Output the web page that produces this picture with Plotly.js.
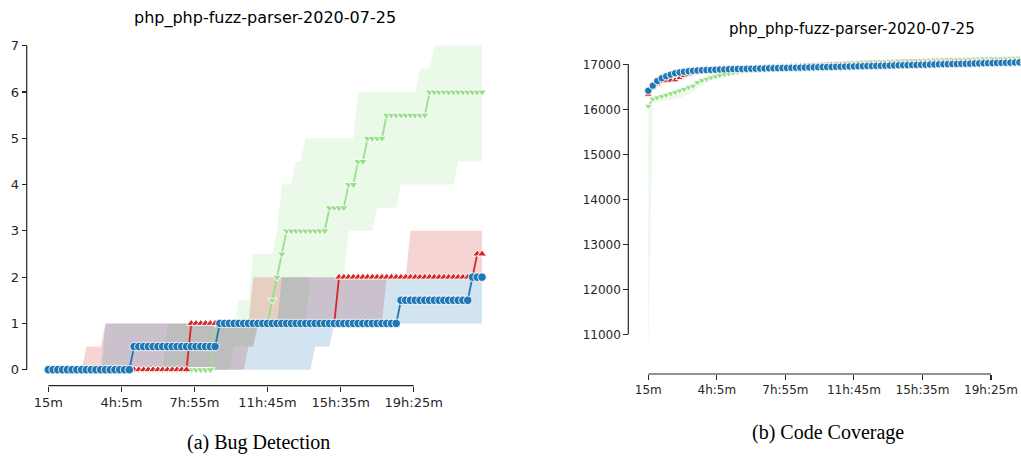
<!DOCTYPE html>
<html><head><meta charset="utf-8">
<script src="https://cdn.plot.ly/plotly-3.0.1.min.js"></script>
<style>html,body{margin:0;padding:0;background:#fff}#chart{width:1021px;height:457px}</style>
</head><body><div id="chart"></div>
<script>
// ---------------- data ----------------
const minutes = [15,30,45,60,75,90,105,120,135,150,165,180,195,210,225,240,255,270,285,300,315,330,345,360,375,390,405,420,435,450,465,480,495,510,525,540,555,570,585,600,615,630,645,660,675,690,705,720,735,750,765,780,795,810,825,840,855,870,885,900,915,930,945,960,975,990,1005,1020,1035,1050,1065,1080,1095,1110,1125,1140,1155,1170,1185,1200,1215,1230,1245,1260,1275,1290,1305,1320,1335,1350,1365,1380];
const tickMinutes = [15,245,475,705,935,1165];
const tickLabels = ['15m','4h:5m','7h:55m','11h:45m','15h:35m','19h:25m'];
const bugTicks = [0,1,2,3,4,5,6,7];
const covTicks = [11000,12000,13000,14000,15000,16000,17000];
const chartTitle = 'php_php-fuzz-parser-2020-07-25';
const captionA = '(a) Bug Detection';
const captionB = '(b) Code Coverage';

// (a) bugs found: mean and band per fuzzer
const bugBlue = [0,0,0,0,0,0,0,0,0,0, 0,0,0,0,0,0,0,0,0.5,0.5, 0.5,0.5,0.5,0.5,0.5,0.5,0.5,0.5,0.5,0.5, 0.5,0.5,0.5,0.5,0.5,0.5,1,1,1,1, 1,1,1,1,1,1,1,1,1,1, 1,1,1,1,1,1,1,1,1,1, 1,1,1,1,1,1,1,1,1,1, 1,1,1,1,1.5,1.5,1.5,1.5,1.5,1.5, 1.5,1.5,1.5,1.5,1.5,1.5,1.5,1.5,1.5,2, 2,2];
const bugBlueLo = [0,0,0,0,0,0,0,0,0,0, 0,0,0,0,0,0,0,0,0,0, 0,0,0,0,0,0,0,0,0,0, 0,0,0,0,0,0,0,0,0,0, 0,0,0,0,0,0,0,0,0,0, 0,0,0,0,0,0,0.5,0.5,0.5,0.5, 1,1,1,1,1,1,1,1,1,1, 1,1,1,1,1,1,1,1,1,1, 1,1,1,1,1,1,1,1,1,1, 1,1];
const bugBlueHi = [0,0,0,0,0,0,0,0,0,0, 0,0,1,1,1,1,1,1,1,1, 1,1,1,1,1,1,1,1,1,1, 1,1,1,1,1,1,1,1,1,1, 1,1,1,1,1,1,1,1,1,2, 2,2,2,2,2,2,2,2,2,2, 2,2,2,2,2,2,2,2,2,2, 2,2,2,2,2,2,2,2,2,2, 2,2,2,2,2,2,2,2,2,2, 2,2];
const bugRed = [0,0,0,0,0,0,0,0,0,0, 0,0,0,0,0,0,0,0,0,0, 0,0,0,0,0,0,0,0,0,0, 1,1,1,1,1,1,1,1,1,1, 1,1,1,1,1,1,1,1,1,1, 1,1,1,1,1,1,1,1,1,1, 1,2,2,2,2,2,2,2,2,2, 2,2,2,2,2,2,2,2,2,2, 2,2,2,2,2,2,2,2,2,2, 2.5,2.5];
const bugRedLo = [0,0,0,0,0,0,0,0,0,0, 0,0,0,0,0,0,0,0,0,0, 0,0,0,0,0,0,0,0,0,0, 0,0,0,0,0,0,0,0,0,0, 0,0,0.5,0.5,1,1,1,1,1,1, 1,1,1,1,1,1,1,1,1,1, 1,1,1,1,1,1,1,1,1,1, 1,2,2,2,2,2,2,2,2,2, 2,2,2,2,2,2,2,2,2,2, 2,2];
const bugRedHi = [0,0,0,0,0,0,0,0,0.5,0.5, 0.5,0.5,1,1,1,1,1,1,1,1, 1,1,1,1,1,1,1,1,1,1, 1,1,1,1,1,1,1,1,1,1, 1,1,1,2,2,2,2,2,2,2, 2,2,2,2,2,2,2,2,2,2, 2,2,2,2,2,2,2,2,2,2, 2,2,2,2,2,2,3,3,3,3, 3,3,3,3,3,3,3,3,3,3, 3,3];
const bugGreen = [0,0,0,0,0,0,0,0,0,0, 0,0,0,0,0,0,0,0,0,0, 0,0,0,0,0,0,0,0,0,0, 0,0,0,0,0,1,1,1,1,1, 1,1,1,1,1,1,1,1.5,2,2.5, 3,3,3,3,3,3,3,3,3,3.5, 3.5,3.5,3.5,4,4,4.5,4.5,5,5,5, 5,5.5,5.5,5.5,5.5,5.5,5.5,5.5,5.5,5.5, 6,6,6,6,6,6,6,6,6,6, 6,6];
const bugGreenLo = [0,0,0,0,0,0,0,0,0,0, 0,0,0,0,0,0,0,0,0,0, 0,0,0,0,0,0,0,0,0,0, 0,0,0,0,0,0,0,0,0,0.5, 0.5,0.5,0.5,0.5,1,1,1,1,1,1, 1,1,1,1,1,2,2,2,2,2, 2,2,2,3,3,3,3,3,3,3.5, 3.5,3.5,3.5,3.5,4,4,4,4,4,4, 4,4,4,4,4,4,4.5,4.5,4.5,4.5, 4.5,4.5];
const bugGreenHi = [0,0,0,0,0,0,0,0,0,0, 0,0,0,0,0,0,0,0,0,0, 0,0,0,0,0,1,1,1,1,1, 1,1,1,1,1,1,1,1,1,1, 1.5,1.5,1.5,2.5,2.5,2.5,2.5,2.5,3,4, 4,4,4.5,4.5,5,5,5,5,5,5, 5,5,5,5,5,6,6,6,6,6, 6,6,6,6,6,6,6,6,6.5,6.5, 6.5,7,7,7,7,7,7,7,7,7, 7,7];

// (b) coverage: mean and band per fuzzer (visible part of the time axis)
const covBlue = [16414,16525,16629,16689,16733,16770,16800,16820,16835,16846, 16855,16862,16867,16872,16876,16880,16884,16887,16890,16893, 16895,16897,16899,16901,16903,16905,16908,16910,16912,16914, 16917,16919,16921,16923,16926,16928,16930,16933,16935,16937, 16940,16942,16944,16946,16949,16951,16953,16955,16958,16960, 16962,16965,16967,16969,16972,16974,16977,16979,16981,16984, 16986,16989,16991,16994,16996,16999,17001,17003,17006,17008, 17011,17013,17015,17018,17020,17023,17025,17027,17030,17032, 17035,17037,17040,17042,17045,17047];
const covBlueLo = [16385,16500,16605,16670,16718,16757,16789,16810,16826,16838, 16847,16854,16859,16864,16868,16872,16876,16879,16882,16885, 16887,16889,16891,16893,16895,16897,16900,16902,16904,16906, 16909,16911,16913,16915,16918,16920,16922,16925,16927,16929, 16932,16934,16936,16938,16941,16943,16945,16947,16950,16952, 16954,16957,16959,16961,16964,16966,16969,16971,16973,16976, 16978,16981,16983,16986,16988,16991,16993,16995,16998,17000, 17003,17005,17007,17010,17012,17015,17017,17019,17022,17024, 17027,17029,17032,17034,17037,17039];
const covBlueHi = [16445,16550,16652,16708,16748,16783,16811,16830,16844,16854, 16863,16870,16875,16880,16884,16888,16892,16895,16898,16901, 16903,16905,16907,16909,16911,16913,16916,16918,16920,16922, 16925,16927,16929,16931,16934,16936,16938,16941,16943,16945, 16948,16950,16952,16954,16957,16959,16961,16963,16966,16968, 16970,16973,16975,16977,16980,16982,16985,16987,16989,16992, 16994,16997,16999,17002,17004,17007,17009,17011,17014,17016, 17019,17021,17023,17026,17028,17031,17033,17035,17038,17040, 17043,17045,17048,17050,17053,17055];
const covRed = [16330,16480,16560,16615,16630,16640,16650,16700,16745,16775, 16795,16812,16826,16838,16850,16860,16869,16877,16885,16892, 16899,16905,16911,16917,16922,16927,16932,16937,16941,16945, 16949,16953,16957,16961,16964,16968,16971,16974,16977,16980, 16983,16986,16989,16992,16995,16998,17000,17003,17005,17008, 17010,17013,17015,17018,17020,17023,17025,17027,17030,17032, 17034,17037,17039,17041,17044,17046,17048,17050,17053,17055, 17057,17059,17062,17064,17066,17068,17070,17073,17075,17077, 17079,17081,17084,17086,17088,17090];
const covRedLo = [16300,16440,16520,16580,16600,16615,16625,16670,16720,16755, 16778,16796,16810,16823,16835,16845,16854,16862,16870,16877, 16884,16890,16896,16902,16907,16912,16917,16922,16926,16930, 16934,16938,16942,16946,16949,16953,16956,16959,16962,16965, 16968,16971,16974,16977,16980,16983,16985,16988,16990,16993, 16995,16998,17000,17003,17005,17008,17010,17012,17015,17017, 17019,17022,17024,17026,17029,17031,17033,17035,17038,17040, 17042,17044,17047,17049,17051,17053,17055,17058,17060,17062, 17064,17066,17069,17071,17073,17075];
const covRedHi = [16370,16520,16600,16650,16660,16670,16680,16730,16770,16795, 16812,16828,16842,16853,16865,16875,16884,16892,16900,16907, 16914,16920,16926,16932,16937,16942,16947,16952,16956,16960, 16964,16968,16972,16976,16979,16983,16986,16989,16992,16995, 16998,17001,17004,17007,17010,17013,17015,17018,17020,17023, 17025,17028,17030,17033,17035,17038,17040,17042,17045,17047, 17049,17052,17054,17056,17059,17061,17063,17065,17068,17070, 17072,17074,17077,17079,17081,17083,17085,17088,17090,17092, 17094,17096,17099,17101,17103,17105];
const covGreen = [16073,16229,16259,16289,16318,16348,16378,16415,16444,16489, 16518,16600,16644,16674,16704,16730,16755,16776,16795,16812, 16828,16843,16857,16870,16882,16893,16904,16914,16924,16933, 16942,16950,16958,16966,16974,16981,16988,16995,17001,17007, 17013,17019,17024,17029,17034,17039,17043,17047,17051,17055, 17059,17063,17066,17070,17073,17076,17079,17082,17085,17088, 17091,17094,17097,17099,17102,17104,17107,17109,17112,17114, 17116,17119,17121,17123,17125,17127,17130,17132,17134,17136, 17138,17140,17142,17144,17146,17148];
const covGreenLo = [10450,16150,16165,16180,16195,16210,16230,16255,16290,16330, 16380,16470,16540,16590,16630,16665,16695,16720,16745,16765, 16785,16800,16815,16830,16843,16855,16866,16877,16887,16897, 16906,16915,16924,16932,16940,16948,16955,16962,16969,16975, 16981,16987,16993,16998,17004,17009,17014,17018,17023,17027, 17031,17035,17039,17043,17046,17050,17053,17056,17059,17062, 17065,17068,17071,17074,17077,17079,17082,17084,17087,17089, 17092,17094,17096,17099,17101,17103,17105,17108,17110,17112, 17114,17116,17118,17120,17122,17124];
const covGreenHi = [16110,16300,16320,16345,16370,16400,16430,16465,16500,16545, 16575,16650,16690,16715,16740,16765,16785,16805,16822,16838, 16853,16867,16880,16892,16904,16914,16924,16934,16944,16953, 16962,16970,16978,16986,16994,17001,17008,17015,17021,17027, 17033,17039,17044,17049,17054,17059,17063,17067,17071,17075, 17079,17083,17086,17090,17093,17096,17099,17102,17105,17108, 17111,17114,17117,17119,17122,17124,17127,17129,17132,17134, 17136,17139,17141,17143,17145,17147,17150,17152,17154,17156, 17158,17160,17162,17164,17166,17168];

// ---------------- layout helpers (pixel geometry) ----------------
const W = 1021, H = 457;
function lin(p, pa, va, pb, vb) { return va + (p - pa) * (vb - va) / (pb - pa); }
function xRange(p0, p1, pa, va, pb, vb) { return [lin(p0, pa, va, pb, vb), lin(p1, pa, va, pb, vb)]; }
const px = p => p / W, py = p => (H - p) / H;

const L = {x0: 28, x1: 500, yBot: 395, yTop: 35, xa: [48.3, 15, 413.7, 1165], ya: [369.7, 0, 45.7, 7], spineY: 385.7, spineX: 26.7};
const R = {x0: 629, x1: 1021, yBot: 385, yTop: 40, xa: [648.3, 15, 991, 1165], ya: [334.3, 11000, 64.3, 17000], spineY: 374, spineX: 628.3};

const C = {blue: '#1f77b4', red: '#d62728', green: '#98df8a'};
const F = {blue: 'rgba(31,119,180,0.2)', red: 'rgba(214,39,40,0.2)', green: 'rgba(152,223,138,0.2)'};
const SYM = {blue: 'circle', red: 'triangle-up', green: 'triangle-down'};

function band(x, lo, hi, key, xa, ya) {
  return [
    {x: x, y: lo, xaxis: xa, yaxis: ya, mode: 'lines', line: {width: 0, color: F[key]}, hoverinfo: 'skip', showlegend: false},
    {x: x, y: hi, xaxis: xa, yaxis: ya, mode: 'lines', line: {width: 0, color: F[key]}, fill: 'tonexty', fillcolor: F[key], hoverinfo: 'skip', showlegend: false}
  ];
}
function mean(x, y, key, xa, ya, size) {
  return {x: x, y: y, xaxis: xa, yaxis: ya, mode: 'lines+markers', showlegend: false,
    line: {color: C[key], width: 1.8},
    marker: {symbol: SYM[key], size: size, color: C[key], line: {color: '#ffffff', width: 0.9}}};
}

const xc = minutes.slice(0, covBlue.length);
const traces = [].concat(
  band(minutes, bugGreenLo, bugGreenHi, 'green', 'x', 'y'),
  band(minutes, bugRedLo, bugRedHi, 'red', 'x', 'y'),
  band(minutes, bugBlueLo, bugBlueHi, 'blue', 'x', 'y'),
  [mean(minutes, bugGreen, 'green', 'x', 'y', 8), mean(minutes, bugRed, 'red', 'x', 'y', 8), mean(minutes, bugBlue, 'blue', 'x', 'y', 8.5)],
  band(xc, covGreenLo, covGreenHi, 'green', 'x2', 'y2'),
  band(xc, covRedLo, covRedHi, 'red', 'x2', 'y2'),
  band(xc, covBlueLo, covBlueHi, 'blue', 'x2', 'y2'),
  [mean(xc, covGreen, 'green', 'x2', 'y2', 7), mean(xc, covRed, 'red', 'x2', 'y2', 7), mean(xc, covBlue, 'blue', 'x2', 'y2', 7.5)]
);

const axisCommon = {showgrid: false, zeroline: false, showline: false, ticks: 'outside', ticklen: 5, tickwidth: 1.1, tickcolor: '#262626', anchor: 'free'};
const spine = {color: '#262626', width: 1.2};

const layout = {
  width: W, height: H, margin: {l: 0, r: 0, t: 0, b: 0}, paper_bgcolor: '#ffffff', plot_bgcolor: 'rgba(0,0,0,0)', showlegend: false,
  xaxis: Object.assign({}, axisCommon, {domain: [px(L.x0), px(L.x1)], range: xRange(L.x0, L.x1, ...L.xa), position: py(L.spineY),
    tickvals: tickMinutes, ticktext: tickLabels, tickfont: {family: 'DejaVu Sans', size: 13, color: '#262626'}}),
  yaxis: Object.assign({}, axisCommon, {domain: [py(L.yBot), py(L.yTop)], range: [lin(L.yBot, ...L.ya), lin(L.yTop, ...L.ya)], position: px(L.spineX),
    tickvals: bugTicks, tickformat: 'd', tickfont: {family: 'DejaVu Sans', size: 13, color: '#262626'}}),
  xaxis2: Object.assign({}, axisCommon, {domain: [px(R.x0), px(R.x1)], range: xRange(R.x0, R.x1, ...R.xa), position: py(R.spineY),
    tickvals: tickMinutes, ticktext: tickLabels, tickfont: {family: 'DejaVu Sans', size: 12, color: '#262626'}}),
  yaxis2: Object.assign({}, axisCommon, {domain: [py(R.yBot), py(R.yTop)], range: [lin(R.yBot, ...R.ya), lin(R.yTop, ...R.ya)], position: px(R.spineX),
    tickvals: covTicks, tickformat: 'd', tickfont: {family: 'DejaVu Sans', size: 12, color: '#262626'}}),
  shapes: [
    {type: 'line', xref: 'x', yref: 'paper', x0: tickMinutes[0], x1: tickMinutes[tickMinutes.length - 1], y0: py(L.spineY), y1: py(L.spineY), line: spine},
    {type: 'line', xref: 'paper', yref: 'y', x0: px(L.spineX), x1: px(L.spineX), y0: bugTicks[0], y1: bugTicks[bugTicks.length - 1], line: spine},
    {type: 'line', xref: 'x2', yref: 'paper', x0: tickMinutes[0], x1: tickMinutes[tickMinutes.length - 1], y0: py(R.spineY), y1: py(R.spineY), line: spine},
    {type: 'line', xref: 'paper', yref: 'y2', x0: px(R.spineX), x1: px(R.spineX), y0: covTicks[0], y1: covTicks[covTicks.length - 1], line: spine}
  ],
  annotations: [
    {text: chartTitle, xref: 'paper', yref: 'paper', x: px(265), y: py(18), xanchor: 'center', yanchor: 'middle', showarrow: false, font: {family: 'DejaVu Sans', size: 16, color: '#000'}},
    {text: chartTitle, xref: 'paper', yref: 'paper', x: px(851.5), y: py(29), xanchor: 'center', yanchor: 'middle', showarrow: false, font: {family: 'DejaVu Sans', size: 15, color: '#000'}},
    {text: captionA, xref: 'paper', yref: 'paper', x: px(258), y: py(442), xanchor: 'center', yanchor: 'middle', showarrow: false, font: {family: 'Liberation Serif', size: 20, color: '#000'}},
    {text: captionB, xref: 'paper', yref: 'paper', x: px(828), y: py(432), xanchor: 'center', yanchor: 'middle', showarrow: false, font: {family: 'Liberation Serif', size: 20, color: '#000'}}
  ]
};

Plotly.newPlot('chart', traces, layout, {staticPlot: true, displayModeBar: false});
</script>
</body></html>
